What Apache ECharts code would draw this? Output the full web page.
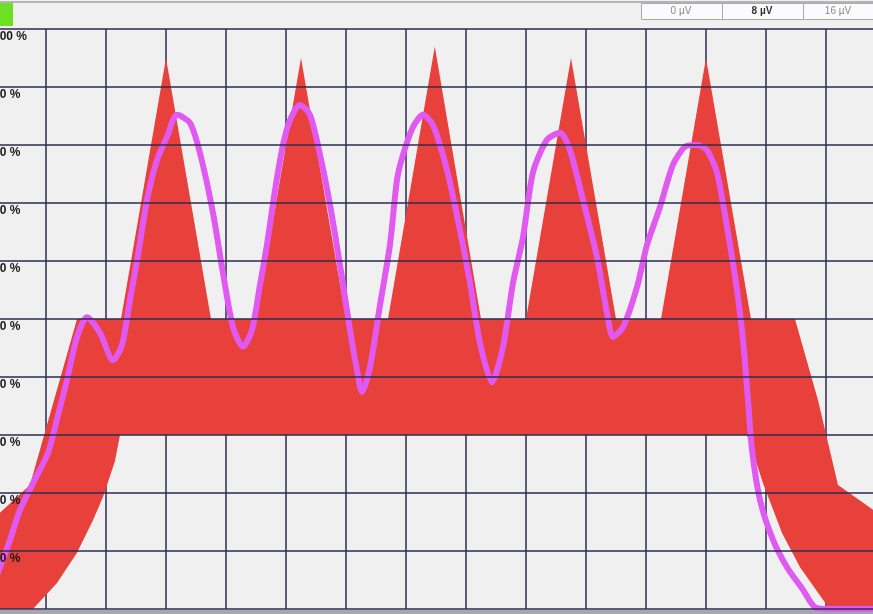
<!DOCTYPE html>
<html>
<head>
<meta charset="utf-8">
<script src="https://cdn.jsdelivr.net/npm/echarts@6/dist/echarts.min.js"></script>
<style>
html,body{margin:0;padding:0;background:#f0f0f0;overflow:hidden;width:873px;height:614px;position:relative;}
#chart{position:absolute;left:-14px;top:0;width:900px;height:614px;}
</style>
</head>
<body>
<div id="chart"></div>
<script>
// Tick labels (percent) on the y axis
const yTicks = [0, 10, 20, 30, 40, 50, 60, 70, 80, 90, 100];
// Scale cells in the header
const scaleLabels = ['0 µV', '8 µV', '16 µV'];

// Tolerance mask: upper envelope (x in grid divisions, y in %)
const upperX = [0, 0.233, 0.733, 1.517, 2.25, 3.0, 3.75, 4.5, 5.25, 6.0, 6.7, 7.48, 8.25, 9.0, 9.75, 10.5, 11.25, 12.0, 12.75, 13.483, 13.867, 14.2, 14.783, 15.0];
const upperY = [14.3, 16.6, 21.4, 50, 50, 95, 50, 50, 95, 50, 50, 97, 50, 50, 95, 50, 50, 95, 50, 50, 36.0, 21.4, 17.1, 15.5];
// Tolerance mask: lower envelope
const lowerX = [0, 0.783, 1.183, 1.517, 1.783, 1.95, 2.15, 2.233, 12.683, 12.8, 12.95, 13.267, 13.567, 13.95, 14.067, 15.0];
const lowerY = [0, 0, 4.5, 9.7, 15.3, 19.3, 25.5, 30, 30, 26.5, 21.7, 13.1, 7.2, 1.6, 0, 0];

// Measured trace
const traceX = [0, 0.233, 0.4, 0.567, 0.783, 1.033, 1.2, 1.35, 1.517, 1.683, 1.9, 2.117, 2.267, 2.4, 2.533, 2.683, 2.85, 3.017, 3.183, 3.4, 3.567, 3.783, 3.95, 4.117, 4.283, 4.433, 4.567, 4.683, 4.817, 4.95, 5.067, 5.233, 5.4, 5.567, 5.733, 5.9, 6.067, 6.183, 6.267, 6.4, 6.567, 6.733, 6.85, 6.95, 7.117, 7.283, 7.45, 7.683, 7.9, 8.067, 8.233, 8.433, 8.617, 8.783, 8.95, 9.117, 9.35, 9.567, 9.733, 9.95, 10.183, 10.35, 10.45, 10.617, 10.85, 11.017, 11.233, 11.45, 11.65, 11.85, 12.017, 12.183, 12.35, 12.517, 12.617, 12.7, 12.767, 12.9, 13.117, 13.35, 13.617, 13.817, 14.067, 15.0];
const traceY = [1.0, 7.2, 11.9, 17.1, 21.7, 26.9, 33.4, 39.5, 46.9, 50.3, 47.6, 42.9, 45.5, 53.3, 61.0, 70.5, 77.4, 81.4, 85.2, 83.8, 78.6, 68.3, 57.9, 48.6, 45.2, 48.1, 55.9, 62.8, 72.2, 80.0, 84.3, 86.9, 85.2, 78.3, 69.7, 59.3, 48.1, 41.2, 37.4, 41.7, 52.4, 62.8, 74.0, 78.3, 83.1, 85.2, 83.4, 75.7, 65.3, 56.2, 45.9, 39.1, 45.2, 56.2, 64.1, 75.3, 80.9, 82.1, 79.1, 70.5, 60.7, 51.0, 46.9, 48.6, 55.5, 62.8, 69.3, 76.6, 79.7, 80.0, 79.1, 75.2, 65.9, 55.0, 46.4, 36.0, 27.4, 18.8, 11.9, 7.2, 3.3, 0.3, 0, 0];

const upperPts = upperX.map((x, i) => [x, upperY[i]]);
const lowerPts = lowerX.map((x, i) => [x, lowerY[i]]);
const tracePts = traceX.map((x, i) => [x, traceY[i]]);

const chart = echarts.init(document.getElementById('chart'));
const gridColor = '#2b2b52';
const OX = 14; // chart canvas starts 14px left of the page

chart.setOption({
  backgroundColor: '#f0f0f0',
  animation: false,
  grid: { left: 0, right: 0, top: 29, bottom: 5, containLabel: false },
  xAxis: {
    type: 'value', min: 0, max: 15, interval: 1,
    axisLabel: { show: false }, axisTick: { show: false },
    axisLine: { show: false },
    splitLine: { show: true, lineStyle: { color: gridColor, width: 1.5 } }
  },
  yAxis: {
    type: 'value', min: 0, max: 100, interval: 10,
    axisLine: { show: false }, axisTick: { show: false },
    splitLine: { show: true, lineStyle: { color: gridColor, width: 1.5 } },
    axisLabel: {
      inside: true, align: 'left', verticalAlign: 'top', margin: 7,
      padding: [2, 0, 0, 0],
      showMinLabel: false,
      color: '#1a1a1a', fontWeight: 'bold', fontSize: 12,
      fontFamily: 'Liberation Sans, Arial, sans-serif',
      formatter: v => v + ' %'
    },
    z: 10
  },
  graphic: [
    { type: 'rect', shape: { x: 0, y: 0, width: 900, height: 28 }, style: { fill: '#f0f0f0' }, z: -1 },
    { type: 'rect', shape: { x: 0, y: 1, width: 900, height: 2 }, style: { fill: '#b4b4b8' } },
    { type: 'rect', shape: { x: OX + 0, y: 3, width: 13, height: 23 }, style: { fill: '#6ee024' } },
    { type: 'rect', shape: { x: OX + 641.5, y: 3.5, width: 240, height: 16 }, style: { fill: '#fbfbfb', stroke: '#a8a8ae', lineWidth: 1 } },
    { type: 'rect', shape: { x: OX + 722, y: 3.5, width: 1, height: 16 }, style: { fill: '#a8a8ae' } },
    { type: 'rect', shape: { x: OX + 803, y: 3.5, width: 1, height: 16 }, style: { fill: '#a8a8ae' } },
    { type: 'text', x: OX + 681, y: 11.5, style: { text: scaleLabels[0], fill: '#8a8a8a', font: '10px Liberation Sans', textAlign: 'center', textVerticalAlign: 'middle' } },
    { type: 'text', x: OX + 762, y: 11.5, style: { text: scaleLabels[1], fill: '#333', font: 'bold 10px Liberation Sans', textAlign: 'center', textVerticalAlign: 'middle' } },
    { type: 'text', x: OX + 838, y: 11.5, style: { text: scaleLabels[2], fill: '#8a8a8a', font: '10px Liberation Sans', textAlign: 'center', textVerticalAlign: 'middle' } },
    { type: 'rect', shape: { x: 0, y: 610, width: 900, height: 4 }, style: { fill: '#a6a6ae' }, z: 1 }
  ],
  series: [
    {
      type: 'custom',
      clip: true,
      data: [[0, 0]],
      z: 3,
      renderItem: function (params, api) {
        if (params.dataIndex !== 0) return null;
        const pts = upperPts.map(p => api.coord(p))
          .concat(lowerPts.slice().reverse().map(p => api.coord(p)));
        return {
          type: 'polygon',
          shape: { points: pts },
          style: { fill: '#e8403b', stroke: null }
        };
      }
    },
    {
      type: 'line',
      data: tracePts,
      showSymbol: false,
      smooth: 0.25,
      clip: false,
      z: 5,
      lineStyle: { color: '#e05af2', width: 6 }
    }
  ]
});
</script>
</body>
</html>
